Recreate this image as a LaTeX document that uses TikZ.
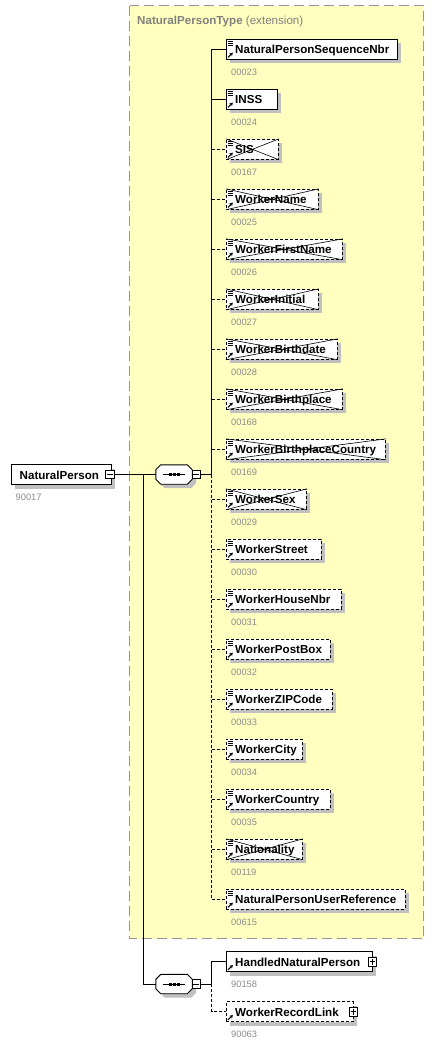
\documentclass[tikz,border=0pt]{standalone}
\usepackage{fontspec}
\setmainfont{Liberation Sans}
\usetikzlibrary{shadows,arrows.meta}
\definecolor{ylw}{RGB}{255,255,192}
\definecolor{shd}{RGB}{192,192,192}
\definecolor{codegray}{RGB}{140,140,140}
\definecolor{ttl}{RGB}{128,128,128}
\definecolor{brd}{RGB}{150,150,150}
\newcommand\lbfont{\fontsize{11.6}{14}\selectfont\bfseries}
\newcommand\cdfont{\fontsize{9.3}{11}\selectfont}
\tikzset{
  ln/.style={line width=0.9pt},
  dsh/.style={line width=0.9pt, dash pattern=on 3pt off 2pt},
  box/.style={rectangle, draw=black, line width=0.9pt, fill=white, minimum height=20pt, inner sep=0pt, anchor=west,
    general shadow={fill=shd, shadow xshift=4pt, shadow yshift=-4pt}},
  optbox/.style={box, dash pattern=on 3pt off 2pt},
  lbl/.style={anchor=base west, inner sep=0pt, font=\lbfont},
  code/.style={anchor=base west, inner sep=0pt, font=\cdfont, text=codegray},
  tog/.style={rectangle, draw=black, fill=white, minimum size=8.5pt, inner sep=0pt, line width=0.7pt},
  seqbox/.style={rectangle, minimum width=36pt, minimum height=19pt, inner sep=0pt},
}
\newcommand\myarrow[1]{\draw[line width=1.1pt,-{Stealth[length=3.2pt,width=3.8pt]}] ([xshift=2pt,yshift=2.3pt]#1.south west) -- ++(4.8pt,4.8pt);}
\newcommand\myicon[1]{%
  \foreach \d in {2,4,6} \draw[line width=0.7pt] ([xshift=1.5pt,yshift=-\d pt]#1.north west) -- ++(5pt,0pt);
  \myarrow{#1}}
\newcommand\mycross[1]{\draw[line width=0.6pt] (#1.north west) -- (#1.south east) (#1.south west) -- (#1.north east);}
% #1 name, #2 y, #3 width, #4 style, #5 text, #6 code
\newcommand\child[6]{%
  \node[#4, minimum width=#3pt] (#1) at (226,#2) {};
  \myicon{#1}
  \node[lbl] (#1t) at ([xshift=9pt,yshift=-4.5pt]#1.west) {#5};
  \node[code] (#1c) at ([xshift=5pt,yshift=-25.7pt]#1.west) {#6};
}
\newcommand\xchild[6]{%
  \node[#4, minimum width=#3pt] (#1) at (226,#2) {};
  \mycross{#1}
  \myicon{#1}
  \node[lbl] (#1t) at ([xshift=9pt,yshift=-4.5pt]#1.west) {#5};
  \node[code] (#1c) at ([xshift=5pt,yshift=-25.7pt]#1.west) {#6};
}
\newcommand\octpath[3]{([shift={(#2+5pt,#3)}]#1.north west) -- ([shift={(#2-5pt,#3)}]#1.north east) -- ([shift={(#2,#3-5pt)}]#1.north east) -- ([shift={(#2,#3+5pt)}]#1.south east) -- ([shift={(#2-5pt,#3)}]#1.south east) -- ([shift={(#2+5pt,#3)}]#1.south west) -- ([shift={(#2,#3+5pt)}]#1.south west) -- ([shift={(#2,#3-5pt)}]#1.north west) -- cycle}
\newcommand\seqshape[1]{%
  \fill[shd] \octpath{#1}{4pt}{-4pt};
  \draw[fill=white, line width=0.9pt] \octpath{#1}{0pt}{0pt};
  \draw[line width=0.9pt] ([xshift=-11pt]#1.center) -- ([xshift=11pt]#1.center);
  \foreach \o in {-4,0,4} \fill ([xshift=\o pt-1.5pt,yshift=-1.5pt]#1.center) rectangle ++(3pt,3pt);}
\newcommand\minus[1]{\draw[line width=0.7pt] ([xshift=1.8pt]#1.west) -- ([xshift=-1.8pt]#1.east);}
\newcommand\plus[1]{\draw[line width=0.7pt] ([xshift=1.8pt]#1.west) -- ([xshift=-1.8pt]#1.east) ([yshift=-1.8pt]#1.north) -- ([yshift=1.8pt]#1.south);}
\begin{document}
\begin{tikzpicture}[x=1pt,y=-1pt]
\useasboundingbox (0,0) rectangle (436,1044);
\fill[white] (0,0) rectangle (436,1044);
% extension container
\draw[draw=brd, line width=1pt, dash pattern=on 10pt off 5pt, fill=ylw] (129.5,5.5) rectangle (423.5,938.5);
\node[anchor=base west, inner sep=0pt, text=ttl, font=\lbfont] (title) at (137,24) {NaturalPersonType {\mdseries(extension)}};

% root
\node[box, minimum width=100pt] (root) at (10.5,474.5) {};
\node[lbl] (roott) at ([xshift=9pt,yshift=-4.5pt]root.west) {NaturalPerson};
\node[code] (rootc) at ([xshift=5pt,yshift=-26pt]root.west) {90017};
\node[tog] (rm) at ([xshift=-1.5pt]root.east) {};
\minus{rm}

% first sequence
\node[seqbox] (s1) at (174,474.5) {};
\seqshape{s1}
\node[tog] (m1) at ([xshift=4pt]s1.east) {};
\minus{m1}
\coordinate (j1) at (143,474.5);
\coordinate (b1) at (211.5,474.5);

% second sequence
\node[seqbox] (s2) at (174,984) {};
\seqshape{s2}
\node[tog] (m2) at ([xshift=4pt]s2.east) {};
\minus{m2}
\coordinate (b2) at (211.5,984);

% children of first sequence
\child{c1}{49.3}{171}{box}{NaturalPersonSequenceNbr}{00023}
\child{c2}{99.3}{51}{box}{INSS}{00024}
\xchild{c3}{149.3}{52}{optbox}{SIS}{00167}
\xchild{c4}{199.3}{92}{optbox}{WorkerName}{00025}
\xchild{c5}{249.3}{116}{optbox}{WorkerFirstName}{00026}
\xchild{c6}{299.3}{92}{optbox}{WorkerInitial}{00027}
\xchild{c7}{349.3}{111}{optbox}{WorkerBirthdate}{00028}
\xchild{c8}{399.3}{116}{optbox}{WorkerBirthplace}{00168}
\xchild{c9}{449.3}{159}{optbox}{WorkerBirthplaceCountry}{00169}
\xchild{c10}{499.3}{80}{optbox}{WorkerSex}{00029}
\child{c11}{549.3}{95}{optbox}{WorkerStreet}{00030}
\child{c12}{599.3}{115}{optbox}{WorkerHouseNbr}{00031}
\child{c13}{649.3}{104}{optbox}{WorkerPostBox}{00032}
\child{c14}{699.3}{106}{optbox}{WorkerZIPCode}{00033}
\child{c15}{749.3}{76}{optbox}{WorkerCity}{00034}
\child{c16}{799.3}{104}{optbox}{WorkerCountry}{00035}
\xchild{c17}{849.3}{76}{optbox}{Nationality}{00119}
\child{c18}{899.3}{179}{optbox}{NaturalPersonUserReference}{00615}

% children of second sequence
\node[box, minimum width=146pt] (h1) at (226,961.7) {};
\myarrow{h1}
\node[lbl] (h1t) at ([xshift=9pt,yshift=-4.5pt]h1.west) {HandledNaturalPerson};
\node[code] (h1c) at ([xshift=5pt,yshift=-25.7pt]h1.west) {90158};
\node[tog] (p1) at ([xshift=-0.5pt]h1.east) {};
\plus{p1}
\node[optbox, minimum width=127pt] (h2) at (226,1011.7) {};
\myarrow{h2}
\node[lbl] (h2t) at ([xshift=9pt,yshift=-4.5pt]h2.west) {WorkerRecordLink};
\node[code] (h2c) at ([xshift=5pt,yshift=-25.7pt]h2.west) {90063};
\node[tog] (p2) at ([xshift=-0.5pt]h2.east) {};
\plus{p2}

% connectors
\draw[ln] (rm.east) -- (s1.west);
\draw[ln] (j1) |- (s2.west);
\draw[ln] (m1.east) -- (b1);
\draw[ln] (b1) |- (c1.west);
\draw[ln] (b1 |- c2.west) -- (c2.west);
\foreach \n in {c3,c4,c5,c6,c7,c8,c9,c10,c11,c12,c13,c14,c15,c16,c17}
  \draw[dsh] (b1 |- \n.west) -- (\n.west);
\draw[dsh] (b1) |- (c18.west);
\draw[ln] (m2.east) -- (b2);
\draw[ln] (b2) |- (h1.west);
\draw[dsh] (b2) |- (h2.west);
\end{tikzpicture}
\end{document}
